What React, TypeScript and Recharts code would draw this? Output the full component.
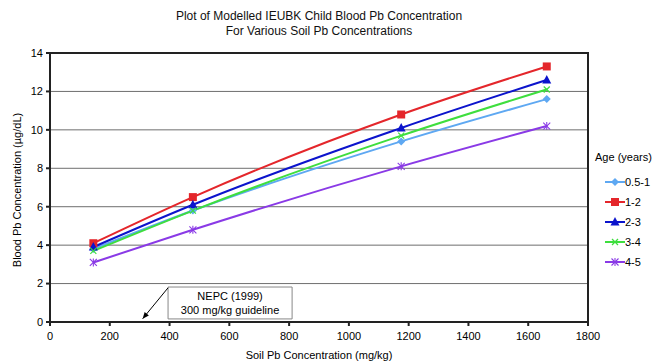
import React from 'react'
import {
  LineChart, Line, XAxis, YAxis, CartesianGrid, Label,
  ReferenceArea, ReferenceLine,
} from 'recharts'

const soilPb = [145, 478, 1175, 1662]
const age05to1 = [3.8, 5.8, 9.4, 11.6]
const age1to2 = [4.1, 6.5, 10.8, 13.3]
const age2to3 = [3.9, 6.1, 10.1, 12.6]
const age3to4 = [3.7, 5.8, 9.7, 12.1]
const age4to5 = [3.1, 4.8, 8.1, 10.2]
const xTicks = [0, 200, 400, 600, 800, 1000, 1200, 1400, 1600, 1800]
const yTicks = [0, 2, 4, 6, 8, 10, 12, 14]

const FONT = '"Liberation Sans", Arial, sans-serif'

const series = [
  { key: 'a', name: '0.5-1', values: age05to1, color: '#5ea8f2', marker: 'diamond' },
  { key: 'b', name: '1-2', values: age1to2, color: '#e4262b', marker: 'square' },
  { key: 'c', name: '2-3', values: age2to3, color: '#0c14cc', marker: 'triangle' },
  { key: 'd', name: '3-4', values: age3to4, color: '#3ede3e', marker: 'x' },
  { key: 'e', name: '4-5', values: age4to5, color: '#8a3ae6', marker: 'star' },
]

const data = soilPb.map((x, i) => {
  const row: Record<string, number> = { x }
  series.forEach(s => { row[s.key] = s.values[i] })
  return row
})

function Marker({ type, cx, cy, color }: { type: string; cx: number; cy: number; color: string }) {
  if (cx == null || cy == null) return null
  if (type === 'diamond')
    return <polygon points={`${cx},${cy - 4} ${cx + 4},${cy} ${cx},${cy + 4} ${cx - 4},${cy}`} fill={color} />
  if (type === 'square')
    return <rect x={cx - 4} y={cy - 4} width={8} height={8} fill={color} />
  if (type === 'triangle')
    return <polygon points={`${cx},${cy - 5} ${cx + 4.5},${cy + 3.5} ${cx - 4.5},${cy + 3.5}`} fill={color} />
  if (type === 'x')
    return (
      <g stroke={color} strokeWidth={1.2}>
        <line x1={cx - 3} y1={cy - 3} x2={cx + 3} y2={cy + 3} />
        <line x1={cx - 3} y1={cy + 3} x2={cx + 3} y2={cy - 3} />
      </g>
    )
  return (
    <g stroke={color} strokeWidth={1.1}>
      <line x1={cx - 3.5} y1={cy - 3.5} x2={cx + 3.5} y2={cy + 3.5} />
      <line x1={cx - 3.5} y1={cy + 3.5} x2={cx + 3.5} y2={cy - 3.5} />
      <line x1={cx} y1={cy - 4} x2={cx} y2={cy + 4} />
    </g>
  )
}

function LegendBox() {
  return (
    <div style={{
      position: 'absolute', left: 595, top: 151, fontFamily: FONT, fontSize: 11, color: '#000',
    }}>
      <div style={{ marginBottom: 9 }}>Age (years)</div>
      {series.map(s => (
        <div key={s.key} style={{ display: 'flex', alignItems: 'center', height: 20, marginLeft: 10 }}>
          <svg width={20} height={10}>
            <line x1={0} y1={5} x2={20} y2={5} stroke={s.color} strokeWidth={2} />
            <Marker type={s.marker} cx={10} cy={5} color={s.color} />
          </svg>
          <span>{s.name}</span>
        </div>
      ))}
    </div>
  )
}

function ArrowShape(props: any) {
  const { x1, y1, x2, y2 } = props
  const ang = Math.atan2(y2 - y1, x2 - x1)
  const L = 7
  const p1 = `${x2 - L * Math.cos(ang - 0.4)},${y2 - L * Math.sin(ang - 0.4)}`
  const p2 = `${x2 - L * Math.cos(ang + 0.4)},${y2 - L * Math.sin(ang + 0.4)}`
  return (
    <g>
      <line x1={x1} y1={y1} x2={x2} y2={y2} stroke="#000" strokeWidth={1} />
      <polygon points={`${x2},${y2} ${p1} ${p2}`} fill="#000" />
    </g>
  )
}

function NoteLabel(props: any) {
  const vb = props.viewBox || {}
  const cx = vb.x + vb.width / 2
  const cy = vb.y + vb.height / 2
  return (
    <g fontFamily={FONT} fontSize={11} fill="#000" textAnchor="middle">
      <text x={cx} y={cy - 3}>NEPC  (1999)</text>
      <text x={cx} y={cy + 11}>300 mg/kg guideline</text>
    </g>
  )
}

export default function App() {
  return (
    <div style={{ position: 'absolute', left: 0, top: 0, width: 653, height: 363, background: '#fff' }}>
      <div style={{
        position: 'absolute', left: 50, width: 538, top: 9, textAlign: 'center',
        fontFamily: FONT, fontSize: 12, lineHeight: '15px', color: '#111',
      }}>
        Plot of Modelled IEUBK Child Blood Pb Concentration<br />For Various Soil Pb Concentrations
      </div>
      <LineChart width={653} height={363} data={data} margin={{ top: 53, right: 65, bottom: 0, left: 0 }}>
        <CartesianGrid vertical={false} stroke="#6e6e6e" strokeWidth={1} />
        <XAxis
          type="number" dataKey="x" domain={[0, 1800]} ticks={xTicks} height={41}
          tick={{ fontSize: 11, fill: '#000', fontFamily: FONT }} tickSize={4} tickMargin={6}
          stroke="#222" strokeWidth={2}
        >
          <Label value="Soil Pb Concentration (mg/kg)" position="insideBottom" offset={4}
            style={{ fontSize: 11, fill: '#000', fontFamily: FONT }} />
        </XAxis>
        <YAxis
          type="number" domain={[0, 14]} ticks={yTicks} width={50}
          tick={{ fontSize: 11, fill: '#000', fontFamily: FONT }} tickSize={4} tickMargin={3}
          stroke="#222" strokeWidth={2}
        >
          <Label
            content={() => (
              <text x={17} y={190} transform="rotate(-90 17 190)" textAnchor="middle"
                dominantBaseline="central" fontSize={11} fontFamily={FONT} fill="#000">
                Blood Pb Concentration (µg/dL)
              </text>
            )}
          />
        </YAxis>
        <ReferenceArea x1={0} x2={1800} y1={0} y2={14} fill="none" stroke="#222" strokeWidth={2} ifOverflow="visible" />
        <ReferenceArea x1={395} x2={810} y1={0.16} y2={1.82} fill="#fff" fillOpacity={1}
          stroke="#888" strokeWidth={1} label={<NoteLabel />} />
        <ReferenceLine segment={[{ x: 395, y: 1.78 }, { x: 310, y: 0.17 }]} shape={<ArrowShape />} ifOverflow="visible" />
        {series.map(s => (
          <Line
            key={s.key} dataKey={s.key} name={s.name} type="monotone" stroke={s.color} strokeWidth={2}
            isAnimationActive={false}
            dot={(p: any) => <Marker key={`${s.key}-${p.index}`} type={s.marker} cx={p.cx} cy={p.cy} color={s.color} />}
            activeDot={false}
          />
        ))}
      </LineChart>
      <LegendBox />
    </div>
  )
}
